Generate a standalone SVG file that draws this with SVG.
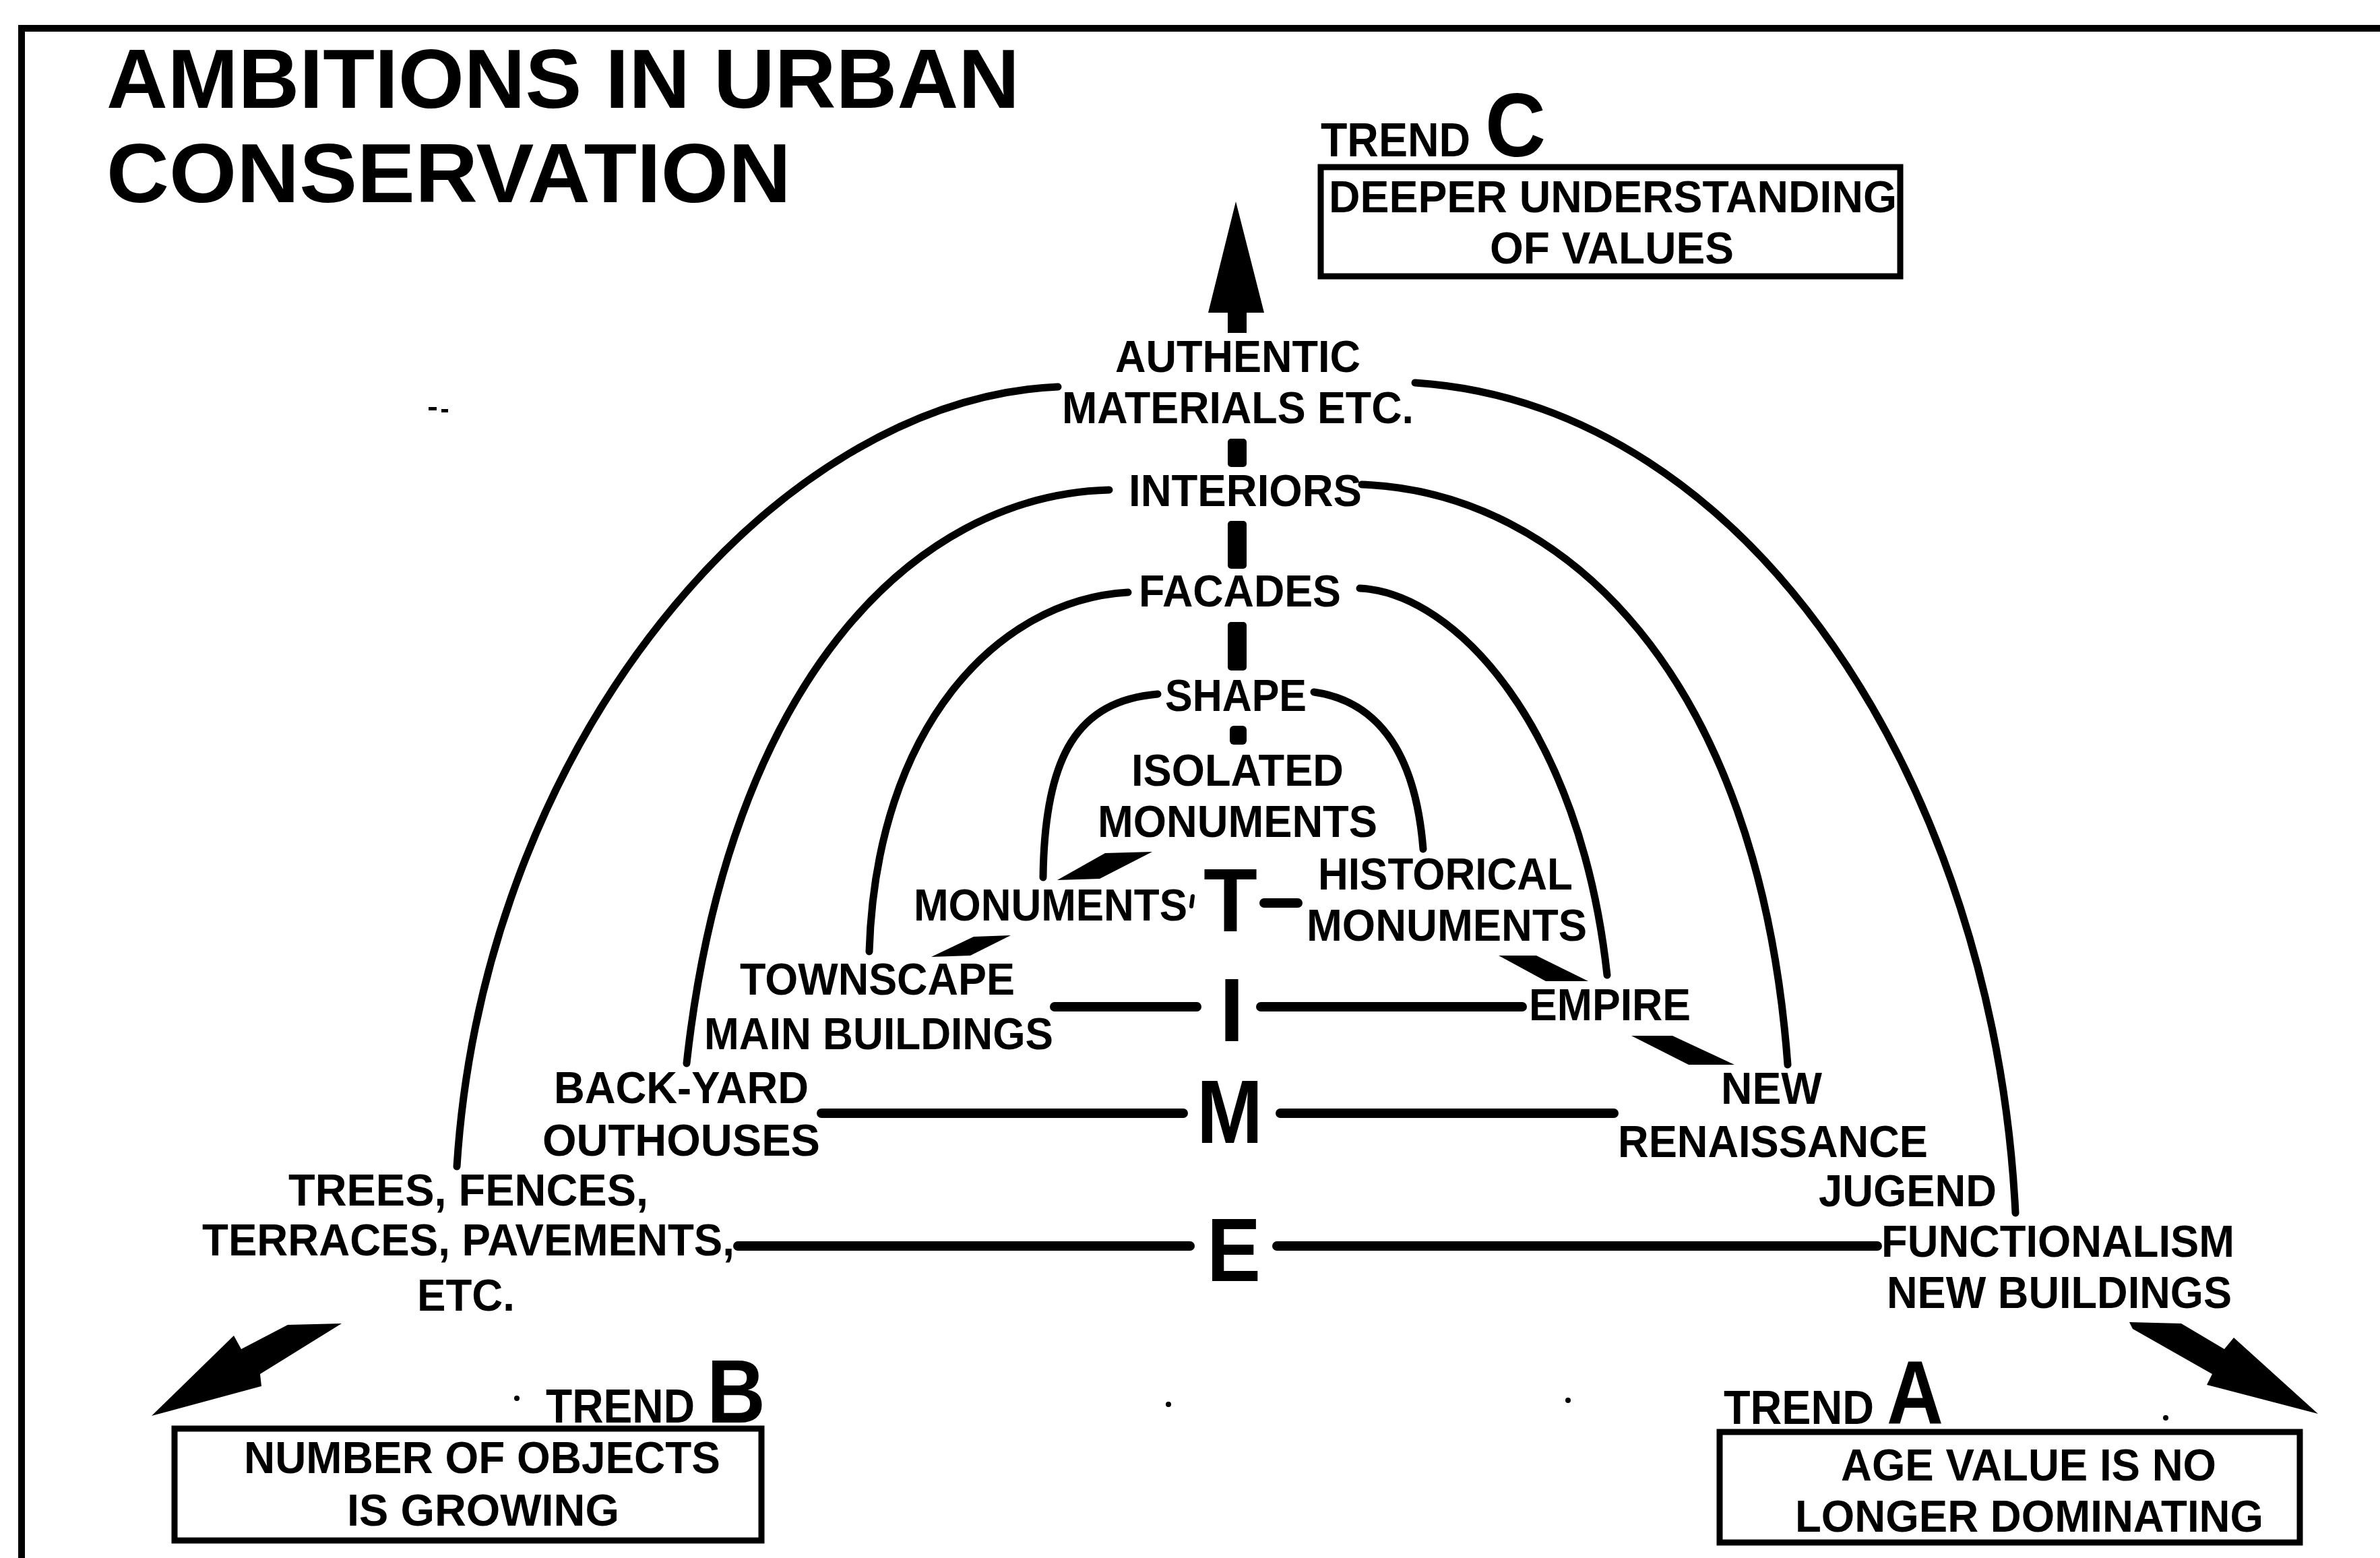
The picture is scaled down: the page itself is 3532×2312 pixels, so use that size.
<svg xmlns="http://www.w3.org/2000/svg" width="3532" height="2312" viewBox="0 0 3532 2312">
  <style>
    .t { font-family: "Liberation Sans", Arial, sans-serif; font-weight: bold; fill: #000; }
    .lbl { font-size: 67px; }
    .ttl { font-size: 124px; }
    .big { font-size: 133px; }
    .trend { font-size: 71px; }
    .arc { fill: none; stroke: #000; stroke-width: 11; stroke-linecap: round; }
    .hl { fill: none; stroke: #000; stroke-width: 14; stroke-linecap: round; }
    .box { fill: #fff; stroke: #000; stroke-width: 9; }
    .solid { fill: #000; stroke: none; }
  </style>

  <rect x="0" y="0" width="3532" height="2312" fill="#fff"/>

  <!-- frame -->
  <g id="frame">
    <line x1="32" y1="42" x2="3532" y2="42" stroke="#000" stroke-width="10"/>
    <line x1="32" y1="37" x2="32" y2="2312" stroke="#000" stroke-width="10"/>
  </g>

  <!-- title -->
  <g id="title">
    <text class="t ttl" x="158" y="160" textLength="1355" lengthAdjust="spacingAndGlyphs">AMBITIONS IN URBAN</text>
    <text class="t ttl" x="158" y="300" textLength="1016" lengthAdjust="spacingAndGlyphs">CONSERVATION</text>
  </g>

  <!-- connectors: arcs, time lines, axis dashes, arrows -->
  <g id="connectors">
    <!-- arc 1: authentic materials -->
    <path class="arc" d="M1570 574 C1150 592 718 1100 678 1731"/>
    <path class="arc" d="M2100 568 C2600 600 2960 1170 2991 1800"/>
    <!-- arc 2: interiors -->
    <path class="arc" d="M1646 727 C1350 735 1080 1020 1019 1578"/>
    <path class="arc" d="M2021 719 C2320 730 2610 1000 2653 1580"/>
    <!-- arc 3: facades -->
    <path class="arc" d="M1674 879 C1480 890 1300 1080 1290 1412"/>
    <path class="arc" d="M2018 873 C2160 880 2345 1080 2385 1447"/>
    <!-- arc 4: shape -->
    <path class="arc" d="M1718 1030 C1600 1040 1550 1120 1548 1302"/>
    <path class="arc" d="M1950 1027 C2040 1040 2100 1110 2112 1260"/>

    <!-- horizontal time lines -->
    <line class="hl" x1="1565" y1="1494" x2="1776" y2="1494"/>
    <line class="hl" x1="1871" y1="1494" x2="2259" y2="1494"/>
    <line class="hl" x1="1219" y1="1652" x2="1756" y2="1652"/>
    <line class="hl" x1="1900" y1="1652" x2="2395" y2="1652"/>
    <line class="hl" x1="1095" y1="1849" x2="1766" y2="1849"/>
    <line class="hl" x1="1895" y1="1849" x2="2786" y2="1849"/>
    <line class="hl" x1="1876" y1="1340" x2="1926" y2="1340"/>

    <!-- vertical axis dashes -->
    <rect class="solid" x="1822" y="651" width="28" height="42" rx="5"/>
    <rect class="solid" x="1822" y="773" width="28" height="71" rx="5"/>
    <rect class="solid" x="1822" y="923" width="28" height="72" rx="5"/>
    <rect class="solid" x="1825" y="1077" width="25" height="28" rx="6"/>

    <!-- upward arrow (trend C) -->
    <polygon class="solid" points="1834,299 1876,464 1850,464 1850,494 1822,494 1822,464 1793,464"/>

    <!-- slanted step arrows -->
    <polygon class="solid" points="1640,1266 1710,1264 1632,1304 1569,1306"/>
    <polygon class="solid" points="1445,1390 1500,1388 1440,1418 1382,1420"/>
    <polygon class="solid" points="2224,1418 2280,1418 2357,1456 2294,1456"/>
    <polygon class="solid" points="2421,1537 2482,1537 2574,1580 2506,1580"/>

    <!-- trend B arrow -->
    <polygon class="solid" points="427,1966 507,1964 386,2039 388,2057 225,2101 347,1982 358,2002"/>
    <!-- trend A arrow -->
    <polygon class="solid" points="3160,1962 3237,1964 3301,2002 3315,1985 3440,2098 3275,2055 3283,2039 3165,1972"/>

    <!-- small tick after MONUMENTS -->
    <path d="M1770 1330 L1768 1345" stroke="#000" stroke-width="6" stroke-linecap="round"/>
  </g>

  <!-- axis labels -->
  <g id="node-authentic">
    <text class="t lbl" x="1655" y="552" textLength="364" lengthAdjust="spacingAndGlyphs">AUTHENTIC</text>
    <text class="t lbl" x="1576" y="628" textLength="522" lengthAdjust="spacingAndGlyphs">MATERIALS ETC.</text>
  </g>
  <g id="node-interiors">
    <text class="t lbl" x="1675" y="751" textLength="346" lengthAdjust="spacingAndGlyphs">INTERIORS</text>
  </g>
  <g id="node-facades">
    <text class="t lbl" x="1690" y="900" textLength="300" lengthAdjust="spacingAndGlyphs">FACADES</text>
  </g>
  <g id="node-shape">
    <text class="t lbl" x="1729" y="1055" textLength="210" lengthAdjust="spacingAndGlyphs">SHAPE</text>
  </g>
  <g id="node-isolated-monuments">
    <text class="t lbl" x="1679" y="1166" textLength="315" lengthAdjust="spacingAndGlyphs">ISOLATED</text>
    <text class="t lbl" x="1629" y="1242" textLength="415" lengthAdjust="spacingAndGlyphs">MONUMENTS</text>
  </g>

  <!-- TIME letters -->
  <g id="node-time">
    <text class="t big" x="1786" y="1382" textLength="80" lengthAdjust="spacingAndGlyphs">T</text>
    <text class="t big" x="1828" y="1545" text-anchor="middle">I</text>
    <text class="t big" x="1776" y="1696" textLength="98" lengthAdjust="spacingAndGlyphs">M</text>
    <text class="t big" x="1791" y="1901" textLength="80" lengthAdjust="spacingAndGlyphs">E</text>
  </g>

  <!-- left labels -->
  <g id="node-monuments">
    <text class="t lbl" x="1356" y="1366" textLength="406" lengthAdjust="spacingAndGlyphs">MONUMENTS</text>
  </g>
  <g id="node-townscape">
    <text class="t lbl" x="1098" y="1476" textLength="408" lengthAdjust="spacingAndGlyphs">TOWNSCAPE</text>
    <text class="t lbl" x="1045" y="1557" textLength="518" lengthAdjust="spacingAndGlyphs">MAIN BUILDINGS</text>
  </g>
  <g id="node-backyard">
    <text class="t lbl" x="822" y="1637" textLength="378" lengthAdjust="spacingAndGlyphs">BACK-YARD</text>
    <text class="t lbl" x="805" y="1715" textLength="412" lengthAdjust="spacingAndGlyphs">OUTHOUSES</text>
  </g>
  <g id="node-trees">
    <text class="t lbl" x="428" y="1789" textLength="534" lengthAdjust="spacingAndGlyphs">TREES, FENCES,</text>
    <text class="t lbl" x="300" y="1863" textLength="790" lengthAdjust="spacingAndGlyphs">TERRACES, PAVEMENTS,</text>
    <text class="t lbl" x="619" y="1945" textLength="145" lengthAdjust="spacingAndGlyphs">ETC.</text>
  </g>

  <!-- right labels -->
  <g id="node-historical">
    <text class="t lbl" x="1956" y="1320" textLength="378" lengthAdjust="spacingAndGlyphs">HISTORICAL</text>
    <text class="t lbl" x="1939" y="1396" textLength="416" lengthAdjust="spacingAndGlyphs">MONUMENTS</text>
  </g>
  <g id="node-empire">
    <text class="t lbl" x="2269" y="1514" textLength="240" lengthAdjust="spacingAndGlyphs">EMPIRE</text>
  </g>
  <g id="node-new-renaissance">
    <text class="t lbl" x="2554" y="1638" textLength="150" lengthAdjust="spacingAndGlyphs">NEW</text>
    <text class="t lbl" x="2401" y="1717" textLength="460" lengthAdjust="spacingAndGlyphs">RENAISSANCE</text>
  </g>
  <g id="node-jugend">
    <text class="t lbl" x="2699" y="1790" textLength="264" lengthAdjust="spacingAndGlyphs">JUGEND</text>
  </g>
  <g id="node-functionalism">
    <text class="t lbl" x="2792" y="1865" textLength="524" lengthAdjust="spacingAndGlyphs">FUNCTIONALISM</text>
    <text class="t lbl" x="2800" y="1941" textLength="512" lengthAdjust="spacingAndGlyphs">NEW BUILDINGS</text>
  </g>

  <!-- trend C -->
  <g id="node-trend-c">
    <text class="t trend" x="1960" y="232" textLength="222" lengthAdjust="spacingAndGlyphs">TREND</text>
    <text class="t big" x="2204" y="232" textLength="90" lengthAdjust="spacingAndGlyphs">C</text>
    <rect class="box" x="1960" y="248" width="860" height="162"/>
    <text class="t lbl" x="1972" y="315" textLength="843" lengthAdjust="spacingAndGlyphs">DEEPER UNDERSTANDING</text>
    <text class="t lbl" x="2211" y="391" textLength="362" lengthAdjust="spacingAndGlyphs">OF VALUES</text>
  </g>

  <!-- trend B -->
  <g id="node-trend-b">
    <text class="t trend" x="810" y="2111" textLength="221" lengthAdjust="spacingAndGlyphs">TREND</text>
    <text class="t big" x="1049" y="2111" textLength="87" lengthAdjust="spacingAndGlyphs">B</text>
    <rect class="box" x="259" y="2120" width="871" height="166"/>
    <text class="t lbl" x="362" y="2186" textLength="707" lengthAdjust="spacingAndGlyphs">NUMBER OF OBJECTS</text>
    <text class="t lbl" x="515" y="2264" textLength="404" lengthAdjust="spacingAndGlyphs">IS GROWING</text>
  </g>

  <!-- trend A -->
  <g id="node-trend-a">
    <text class="t trend" x="2558" y="2113" textLength="223" lengthAdjust="spacingAndGlyphs">TREND</text>
    <text class="t big" x="2800" y="2113" textLength="84" lengthAdjust="spacingAndGlyphs">A</text>
    <rect class="box" x="2552" y="2125" width="861" height="164"/>
    <text class="t lbl" x="2732" y="2197" textLength="557" lengthAdjust="spacingAndGlyphs">AGE VALUE IS NO</text>
    <text class="t lbl" x="2664" y="2273" textLength="695" lengthAdjust="spacingAndGlyphs">LONGER DOMINATING</text>
  </g>

  <!-- specks -->
  <g id="specks" fill="#000">
    <circle cx="767" cy="2075" r="4"/>
    <circle cx="1734" cy="2084" r="4"/>
    <circle cx="2327" cy="2078" r="4"/>
    <circle cx="3214" cy="2104" r="4"/>
    <rect x="636" y="604" width="12" height="5"/>
    <rect x="655" y="607" width="10" height="5"/>
  </g>
</svg>
